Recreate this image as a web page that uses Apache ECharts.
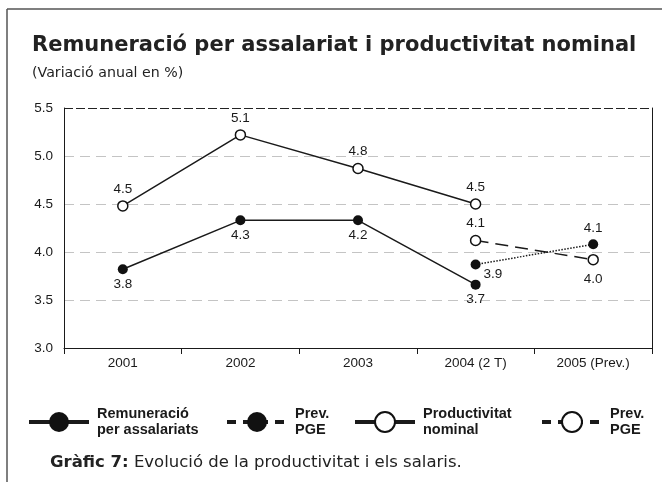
<!DOCTYPE html>
<html>
<head>
<meta charset="utf-8">
<script src="https://cdn.jsdelivr.net/npm/echarts@6/dist/echarts.min.js"></script>
<style>
  html, body { margin: 0; padding: 0; background: #fff; }
  #chart { width: 662px; height: 482px; }
</style>
</head>
<body>
<div id="chart"></div>
<script>
// ---- Data ----
const categories = ['2001', '2002', '2003', '2004 (2 T)', '2005 (Prev.)'];
const remuneracio = [3.82, 4.33, 4.33, 3.66, null];
const remuneracioLabels = ['3.8', '4.3', '4.2', '3.7', null];
const remuneracioPGE = [null, null, null, 3.87, 4.08];
const remuneracioPGELabels = [null, null, null, '3.9', '4.1'];
const productivitat = [4.48, 5.22, 4.87, 4.5, null];
const productivitatLabels = ['4.5', '5.1', '4.8', '4.5', null];
const productivitatPGE = [null, null, null, 4.12, 3.92];
const productivitatPGELabels = [null, null, null, '4.1', '4.0'];
const yMin = 3.0, yMax = 5.5, yStep = 0.5;

const legendNames = {
  rem: 'Remuneració\nper assalariats',
  remPGE: 'Prev.\nPGE',
  prod: 'Productivitat\nnominal',
  prodPGE: 'Prev.\nPGE'
};

// ---- Styling helpers ----
const ARIAL = '"Liberation Sans", Arial, sans-serif';
const HUMAN = '"DejaVu Sans", sans-serif';
const INK = '#1a1a1a';

function makeData(values, labels, placements) {
  return values.map((v, i) => {
    if (v === null) return null;
    const p = placements[i] || {};
    return {
      value: v,
      label: Object.assign({ formatter: labels[i] }, p)
    };
  });
}

const labelBase = {
  show: true,
  fontFamily: ARIAL,
  fontSize: 13.5,
  color: INK
};

const below = { position: 'bottom', distance: 3 };
const above = { position: 'top', distance: 4 };

const chart = echarts.init(document.getElementById('chart'), null, { renderer: 'canvas' });

const legendCommon = {
  orient: 'horizontal',
  top: 406,
  padding: 0,
  itemWidth: 60,
  itemHeight: 25,
  selectedMode: false,
  formatter: (n) => legendNames[n],
  textStyle: {
    fontFamily: ARIAL,
    fontWeight: 'bold',
    fontSize: 14.5,
    lineHeight: 16,
    color: INK,
    padding: [0, 0, 0, 3]
  }
};

const option = {
  backgroundColor: '#fff',
  animation: false,
  title: [
    {
      text: 'Remuneració per assalariat i productivitat nominal',
      subtext: '(Variació anual en %)',
      left: 27,
      top: 30,
      itemGap: 10,
      textStyle: { fontFamily: HUMAN, fontWeight: 'bold', fontSize: 21, color: '#222' },
      subtextStyle: { fontFamily: HUMAN, fontSize: 14.2, color: '#222' }
    },
    {
      text: '{b|Gràfic 7:} Evolució de la productivitat i els salaris.',
      left: 45,
      top: 449,
      textStyle: {
        fontFamily: HUMAN, fontSize: 16.5, fontWeight: 'normal', color: '#222',
        rich: { b: { fontFamily: HUMAN, fontSize: 16.5, fontWeight: 'bold', color: '#222' } }
      }
    }
  ],
  graphic: [
    { type: 'line', shape: { x1: 7, y1: 9, x2: 7, y2: 482 }, style: { stroke: '#555', lineWidth: 1.5 } },
    { type: 'line', shape: { x1: 7, y1: 9, x2: 662, y2: 9 }, style: { stroke: '#555', lineWidth: 1.5 } }
  ],
  legend: [
    Object.assign({}, legendCommon, {
      left: 27,
      data: [{ name: 'rem', lineStyle: { width: 4, type: 'solid' } }]
    }),
    Object.assign({}, legendCommon, {
      left: 225,
      data: [{ name: 'remPGE', lineStyle: { width: 4, type: [9, 7] } }]
    }),
    Object.assign({}, legendCommon, {
      left: 353,
      data: [{ name: 'prod', lineStyle: { width: 4, type: 'solid' } }]
    }),
    Object.assign({}, legendCommon, {
      left: 540,
      data: [{ name: 'prodPGE', lineStyle: { width: 4, type: [9, 7] } }]
    })
  ],
  grid: { left: 64, right: 10, top: 108, bottom: 134, containLabel: false },
  xAxis: {
    type: 'category',
    data: categories,
    boundaryGap: true,
    axisLine: { show: true, lineStyle: { color: INK, width: 1 } },
    axisTick: { show: true, length: 6, lineStyle: { color: INK } },
    axisLabel: { fontFamily: ARIAL, fontSize: 13.5, color: INK, margin: 8 },
    splitLine: { show: false }
  },
  yAxis: [
    {
      type: 'value',
      min: yMin, max: yMax, interval: yStep,
      axisLine: { show: true, lineStyle: { color: INK, width: 1 } },
      axisTick: { show: false },
      axisLabel: { fontFamily: ARIAL, fontSize: 13.5, color: INK, margin: 11, formatter: (v) => v.toFixed(1) },
      splitLine: {
        show: true,
        lineStyle: { color: ['transparent', '#c4c4c4', '#c4c4c4', '#c4c4c4', '#c4c4c4', 'transparent'], type: [10, 6], width: 1.2 }
      }
    },
    {
      type: 'value',
      position: 'right',
      min: yMin, max: yMax, interval: yStep,
      axisLine: { show: true, lineStyle: { color: INK, width: 1 } },
      axisTick: { show: false },
      axisLabel: { show: false },
      splitLine: {
        show: true,
        lineStyle: { color: ['transparent', 'transparent', 'transparent', 'transparent', 'transparent', '#222'], type: [9, 3], width: 1.2 }
      }
    }
  ],
  series: [
    {
      name: 'rem',
      type: 'line',
      data: makeData(remuneracio, remuneracioLabels, [below, below, below, below, below]),
      symbol: 'circle',
      symbolSize: 10,
      lineStyle: { color: INK, width: 1.5, type: 'solid' },
      itemStyle: { color: '#111', borderColor: '#111', borderWidth: 0 },
      label: labelBase,
      z: 3
    },
    {
      name: 'remPGE',
      type: 'line',
      data: makeData(remuneracioPGE, remuneracioPGELabels,
        [null, null, null, { position: 'right', distance: 3, offset: [0, 10] }, above]),
      symbol: 'circle',
      symbolSize: 10,
      lineStyle: { color: INK, width: 1.5, type: [1.5, 1.5] },
      itemStyle: { color: '#111', borderColor: '#111', borderWidth: 0 },
      label: labelBase,
      z: 3
    },
    {
      name: 'prod',
      type: 'line',
      data: makeData(productivitat, productivitatLabels, [above, above, above, above, above]),
      symbol: 'circle',
      symbolSize: 10,
      lineStyle: { color: INK, width: 1.5, type: 'solid' },
      itemStyle: { color: '#fff', borderColor: '#111', borderWidth: 1.5 },
      label: labelBase,
      z: 4
    },
    {
      name: 'prodPGE',
      type: 'line',
      data: makeData(productivitatPGE, productivitatPGELabels,
        [null, null, null, above, { position: 'bottom', distance: 7 }]),
      symbol: 'circle',
      symbolSize: 10,
      lineStyle: { color: INK, width: 1.5, type: [13, 7] },
      itemStyle: { color: '#fff', borderColor: '#111', borderWidth: 1.5 },
      label: labelBase,
      z: 4
    }
  ]
};

chart.setOption(option);
</script>
</body>
</html>
